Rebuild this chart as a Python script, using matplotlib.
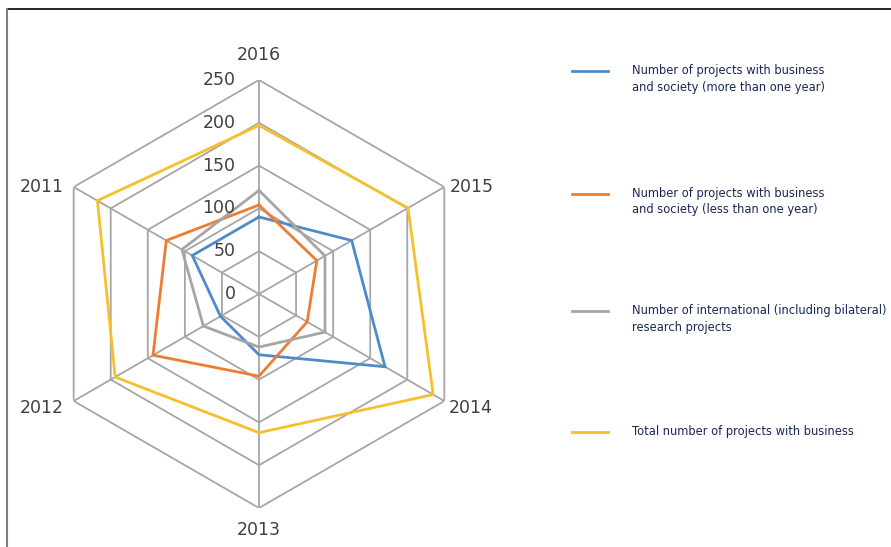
import numpy as np
import matplotlib
matplotlib.use("Agg")
import matplotlib.pyplot as plt
from matplotlib.lines import Line2D

# ---- data ----
years = ["2016", "2015", "2014", "2013", "2012", "2011"]
long_projects = [90, 125, 170, 71, 52, 90]
short_projects = [104, 78, 65, 96, 143, 125]
intl_projects = [121, 89, 89, 62, 75, 104]
total_projects = [197, 201, 235, 162, 194, 218]
series_names = [
    "Number of projects with business\nand society (more than one year)",
    "Number of projects with business\nand society (less than one year)",
    "Number of international (including bilateral)\nresearch projects",
    "Total number of projects with business",
]
r_ticks = [0, 50, 100, 150, 200, 250]
r_max = 250

colors = ["#4F8BC9", "#ED7D31", "#A5A5A5", "#F5C02C"]
series = [long_projects, short_projects, intl_projects, total_projects]

W, H = 891, 547
fig = plt.figure(figsize=(W / 100, H / 100), dpi=100)

cx, cy, R = 259, 294, 214
ax = fig.add_axes([(cx - R) / W, (H - cy - R) / H, 2 * R / W, 2 * R / H],
                  projection="polar")
ax.set_theta_zero_location("N")
ax.set_theta_direction(-1)
ax.set_ylim(0, r_max)
ax.grid(False)
ax.spines["polar"].set_visible(False)
ax.set_xticks([])
ax.set_yticks([])
ax.patch.set_alpha(0)

n = len(years)
angles = np.arange(n) * 2 * np.pi / n
ang_closed = np.concatenate([angles, angles[:1]])

grid_color = "#A6A6A6"
for rv in r_ticks[1:]:
    ax.plot(ang_closed, [rv] * (n + 1), color=grid_color, lw=1.3, zorder=1)
for a in angles:
    ax.plot([a, a], [0, r_max], color=grid_color, lw=1.3, zorder=1)

for vals, c in zip(series, colors):
    v = list(vals) + [vals[0]]
    ax.plot(ang_closed, v, color=c, lw=2.0, zorder=3, solid_joinstyle="miter")

# radial tick labels (to the left of the top spoke)
for rv in r_ticks:
    ax.annotate(str(rv), xy=(0, rv), xytext=(-17, 0), textcoords="offset points",
                ha="right", va="center", fontsize=12.5, color="#404040",
                annotation_clip=False)

# category labels, offset (in pixels) from outer vertex
label_offsets_px = [(0, 25), (27, 0), (26, -7), (0, -22), (-32, -7), (-32, 0)]
for a, lab, (ox, oy) in zip(angles, years, label_offsets_px):
    ax.annotate(lab, xy=(a, r_max), xytext=(ox * 0.72, oy * 0.72),
                textcoords="offset points", ha="center", va="center",
                fontsize=12.5, color="#404040", annotation_clip=False)

# legend (manual)
leg_y = [71, 194, 311, 432]
for y, c, name in zip(leg_y, colors, series_names):
    fig.add_artist(Line2D([572 / W, 608 / W], [1 - y / H, 1 - y / H],
                          color=c, lw=2.0))
    fig.text(632 / W, 1 - (y - 7) / H, name, ha="left", va="top",
             fontsize=8.3, color="#1A2858", linespacing=1.35)

# frame lines
fig.add_artist(Line2D([7 / W, 1], [1 - 9 / H, 1 - 9 / H], color="black", lw=1.2))
fig.add_artist(Line2D([7 / W, 7 / W], [0, 1 - 9 / H], color="#808080", lw=1.5))

fig.savefig("out.png", dpi=100)
